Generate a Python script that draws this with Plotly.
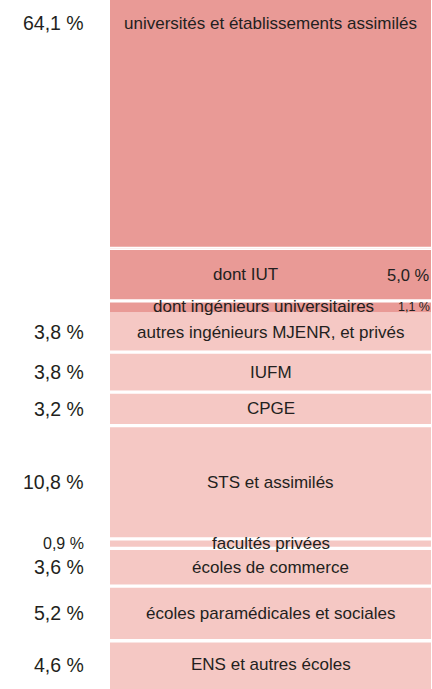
import numpy as np
import plotly.graph_objects as go

# ---- data (top to bottom) ----
univ_label = "universités et établissements assimilés"
univ_total = 64.1
sub_labels = ["dont IUT", "dont ingénieurs universitaires"]
sub_values = [5.0, 1.1]

categories = ["autres ingénieurs MJENR, et privés", "IUFM", "CPGE",
              "STS et assimilés", "facultés privées", "écoles de commerce",
              "écoles paramédicales et sociales", "ENS et autres écoles"]
values = [3.8, 3.8, 3.2, 10.8, 0.9, 3.6, 5.2, 4.6]


def fmt(v):
    return f"{v:.1f}".replace(".", ",") + " %"


DARK = "#E99A96"
LIGHT = "#F5C8C4"
TXT = "#231F20"
FONT = "Liberation Sans, Arial, sans-serif"

# cumulative positions, stacked from the bottom
vals_bu = np.array(values[::-1])
base_bu = np.concatenate([[0], np.cumsum(vals_bu)[:-1]])
others_total = vals_bu.sum()
ing_base = others_total
iut_base = others_total + sub_values[1]
univ_base = iut_base + sub_values[0]
univ_rest = univ_total - sub_values[0] - sub_values[1]
grand_total = univ_base + univ_rest

split = 0.6396

fig = go.Figure()
# lower segments
fig.add_trace(go.Bar(x=[0] * len(vals_bu), y=vals_bu, base=base_bu, width=1,
                     marker=dict(color=LIGHT, line=dict(width=0)),
                     xaxis="x", yaxis="y", hoverinfo="skip"))
# sub-parts of universities
fig.add_trace(go.Bar(x=[0, 0], y=[sub_values[1], sub_values[0]],
                     base=[ing_base, iut_base], width=1,
                     marker=dict(color=DARK, line=dict(width=0)),
                     xaxis="x", yaxis="y", hoverinfo="skip"))
# universities remainder (upper, compressed scale)
fig.add_trace(go.Bar(x=[0], y=[univ_rest], base=[univ_base], width=1,
                     marker=dict(color=DARK, line=dict(width=0)),
                     xaxis="x", yaxis="y2", hoverinfo="skip"))

# white separators
bounds_low = list(np.cumsum(vals_bu)[:-1]) + [iut_base, univ_base]
sx, sy = [], []
for b in bounds_low:
    sx += [-0.6, 0.6, None]
    sy += [b, b, None]
fig.add_trace(go.Scatter(x=sx, y=sy, mode="lines",
                         line=dict(color="white", width=3.3),
                         xaxis="x", yaxis="y", hoverinfo="skip"))
fig.add_trace(go.Scatter(x=[-0.6, 0.6], y=[univ_base, univ_base], mode="lines",
                         line=dict(color="white", width=3.3),
                         xaxis="x", yaxis="y2", hoverinfo="skip"))

ann = []
LX = 86 / 432
# universities labels
ann.append(dict(xref="x", yref="y2 domain", x=0, y=1, yshift=-23,
                text=univ_label, showarrow=False, xanchor="center", yanchor="middle",
                font=dict(size=17, color=TXT, family=FONT)))
ann.append(dict(xref="paper", yref="y2 domain", x=LX, y=1, yshift=-23,
                text=fmt(univ_total), showarrow=False, xanchor="right", yanchor="middle",
                font=dict(size=19.5, color=TXT, family=FONT)))
# sub-part labels
iut_mid = iut_base + sub_values[0] / 2
ing_mid = ing_base + sub_values[1] / 2
ann.append(dict(xref="x", yref="y", x=0, y=iut_mid, xshift=-25,
                text=sub_labels[0], showarrow=False, yanchor="middle",
                font=dict(size=17, color=TXT, family=FONT)))
ann.append(dict(xref="paper", yref="y", x=1, y=iut_mid,
                text=fmt(sub_values[0]), showarrow=False, xanchor="right", yanchor="middle",
                font=dict(size=16.5, color=TXT, family=FONT)))
ann.append(dict(xref="x", yref="y", x=0, y=ing_mid, xshift=-7,
                text=sub_labels[1], showarrow=False, yanchor="middle",
                font=dict(size=17, color=TXT, family=FONT)))
ann.append(dict(xref="paper", yref="y", x=1, y=ing_mid,
                text=fmt(sub_values[1]), showarrow=False, xanchor="right", yanchor="middle",
                font=dict(size=12.5, color=TXT, family=FONT)))

cats_bu = categories[::-1]
for c, v, b in zip(cats_bu, vals_bu, base_bu):
    mid = b + v / 2
    ann.append(dict(xref="x", yref="y", x=0, y=mid, text=c, showarrow=False,
                    yanchor="middle",
                    font=dict(size=17, color=TXT, family=FONT)))
    ann.append(dict(xref="paper", yref="y", x=LX, y=mid, text=fmt(v),
                    showarrow=False, xanchor="right", yanchor="middle",
                    font=dict(size=16 if v < 1 else 19.5, color=TXT, family=FONT)))

fig.update_layout(
    width=432, height=689,
    margin=dict(l=0, r=0, t=0, b=0),
    paper_bgcolor="white", plot_bgcolor="white",
    barmode="overlay", showlegend=False,
    xaxis=dict(domain=[110 / 432, 431 / 432], range=[-0.5, 0.5], visible=False,
               fixedrange=True),
    yaxis=dict(domain=[0, split], range=[0, univ_base], visible=False, fixedrange=True),
    yaxis2=dict(domain=[split, 1], range=[univ_base, grand_total], visible=False,
                anchor="x", fixedrange=True),
    annotations=ann,
    font=dict(family=FONT),
)

fig.write_html("out.html", config={"displayModeBar": False},
               post_script="document.body.style.margin='0';")
